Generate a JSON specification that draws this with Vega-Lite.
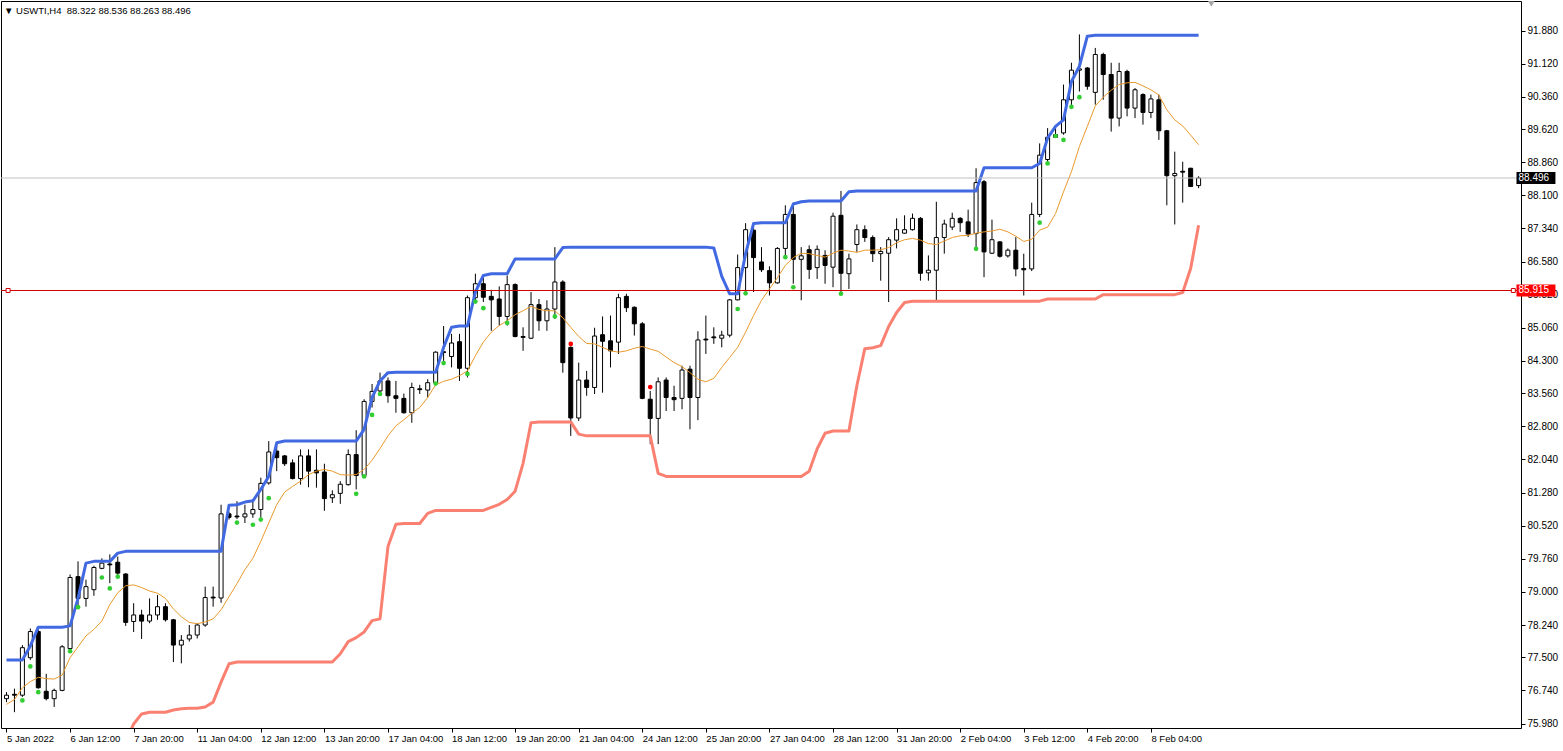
{
 "$schema": "https://vega.github.io/schema/vega-lite/v6.json",
 "width": 1520,
 "height": 727,
 "padding": {"left": 0, "top": 1, "right": 0, "bottom": 0},
 "autosize": {"type": "pad"},
 "background": "white",
 "config": {
  "view": {"stroke": "black", "strokeWidth": 1},
  "font": "Liberation Sans",
  "axis": {"labelFont": "Liberation Sans", "labelColor": "black", "tickColor": "black", "grid": false, "title": null, "domain": false, "labelOverlap": false, "labelSeparation": 0}
 },
 "title": {"text": "▼ USWTI,H4\u00a0\u00a088.322 88.536 88.263 88.496", "anchor": "start", "frame": "group", "orient": "top", "offset": -14, "dx": 3, "fontSize": 9.5, "fontWeight": "normal", "font": "Liberation Sans", "color": "black"},
 "datasets": {
  "bars": [
   {"i":0,"o":76.55,"h":76.70,"l":76.47,"c":76.63,"up":77.44,"ma":76.42},
   {"i":1,"o":76.65,"h":76.78,"l":76.24,"c":76.63,"up":77.44,"ma":76.53},
   {"i":2,"o":76.63,"h":77.78,"l":76.59,"c":77.72,"up":77.44,"ma":76.80},
   {"i":3,"o":77.49,"h":78.16,"l":77.44,"c":78.09,"up":77.76,"ma":76.94},
   {"i":4,"o":78.09,"h":78.13,"l":76.78,"c":76.80,"up":78.19,"ma":77.04},
   {"i":5,"o":76.72,"h":77.12,"l":76.51,"c":76.55,"up":78.19,"ma":77.01},
   {"i":6,"o":76.55,"h":76.78,"l":76.36,"c":76.74,"up":78.19,"ma":77.00},
   {"i":7,"o":76.74,"h":77.78,"l":76.72,"c":77.74,"up":78.19,"ma":77.09},
   {"i":8,"o":77.70,"h":79.40,"l":77.63,"c":79.33,"up":78.22,"ma":77.49},
   {"i":9,"o":79.35,"h":79.70,"l":78.62,"c":78.85,"up":78.85,"ma":77.74},
   {"i":10,"o":78.85,"h":79.28,"l":78.66,"c":79.12,"up":79.66,"ma":77.99},
   {"i":11,"o":79.05,"h":79.60,"l":78.91,"c":79.56,"up":79.70,"ma":78.14},
   {"i":12,"o":79.54,"h":79.77,"l":79.52,"c":79.66,"up":79.70,"ma":78.33},
   {"i":13,"o":79.64,"h":79.86,"l":79.20,"c":79.62,"up":79.70,"ma":78.71},
   {"i":14,"o":79.68,"h":79.81,"l":79.39,"c":79.43,"up":79.89,"ma":78.98},
   {"i":15,"o":79.41,"h":79.43,"l":78.22,"c":78.30,"up":79.93,"dn":75.55,"ma":79.14},
   {"i":16,"o":78.32,"h":78.74,"l":78.08,"c":78.47,"up":79.93,"dn":75.97,"ma":79.16},
   {"i":17,"o":78.47,"h":78.59,"l":77.92,"c":78.33,"up":79.93,"dn":76.20,"ma":79.10},
   {"i":18,"o":78.33,"h":78.85,"l":78.28,"c":78.47,"up":79.93,"dn":76.24,"ma":79.02},
   {"i":19,"o":78.47,"h":78.93,"l":78.36,"c":78.66,"up":79.93,"dn":76.24,"ma":78.97},
   {"i":20,"o":78.66,"h":78.74,"l":78.32,"c":78.36,"up":79.93,"dn":76.24,"ma":78.85},
   {"i":21,"o":78.36,"h":78.38,"l":77.39,"c":77.78,"up":79.93,"dn":76.29,"ma":78.61},
   {"i":22,"o":77.78,"h":78.01,"l":77.36,"c":77.89,"up":79.93,"dn":76.32,"ma":78.43},
   {"i":23,"o":77.92,"h":78.24,"l":77.86,"c":78.01,"up":79.93,"dn":76.33,"ma":78.30},
   {"i":24,"o":78.01,"h":78.28,"l":77.93,"c":78.24,"up":79.93,"dn":76.33,"ma":78.27},
   {"i":25,"o":78.24,"h":79.12,"l":78.20,"c":78.87,"up":79.93,"dn":76.36,"ma":78.31},
   {"i":26,"o":78.88,"h":79.12,"l":78.66,"c":78.86,"up":79.93,"dn":76.47,"ma":78.38},
   {"i":27,"o":78.86,"h":81.00,"l":78.75,"c":80.79,"up":79.93,"dn":76.93,"ma":78.59},
   {"i":28,"o":80.79,"h":80.83,"l":80.66,"c":80.71,"up":80.99,"dn":77.35,"ma":78.89},
   {"i":29,"o":80.74,"h":81.08,"l":80.67,"c":80.72,"up":81.00,"dn":77.39,"ma":79.19},
   {"i":30,"o":80.72,"h":81.00,"l":80.58,"c":80.79,"up":81.06,"dn":77.39,"ma":79.51},
   {"i":31,"o":80.79,"h":81.12,"l":80.70,"c":80.89,"up":81.09,"dn":77.39,"ma":79.77},
   {"i":32,"o":80.89,"h":81.62,"l":80.70,"c":81.49,"up":81.35,"dn":77.39,"ma":80.16},
   {"i":33,"o":81.50,"h":82.46,"l":81.46,"c":82.21,"up":81.65,"dn":77.39,"ma":80.58},
   {"i":34,"o":82.23,"h":82.42,"l":81.77,"c":82.08,"up":82.42,"dn":77.39,"ma":81.00},
   {"i":35,"o":82.12,"h":82.14,"l":81.89,"c":81.94,"up":82.46,"dn":77.39,"ma":81.29},
   {"i":36,"o":81.96,"h":82.04,"l":81.58,"c":81.60,"up":82.46,"dn":77.39,"ma":81.42},
   {"i":37,"o":81.60,"h":82.27,"l":81.46,"c":82.12,"up":82.46,"dn":77.39,"ma":81.54},
   {"i":38,"o":82.12,"h":82.27,"l":81.40,"c":81.77,"up":82.46,"dn":77.39,"ma":81.69},
   {"i":39,"o":81.79,"h":82.27,"l":81.39,"c":81.73,"up":82.46,"dn":77.39,"ma":81.77},
   {"i":40,"o":81.75,"h":81.94,"l":80.86,"c":81.14,"up":82.46,"dn":77.39,"ma":81.81},
   {"i":41,"o":81.16,"h":81.33,"l":81.04,"c":81.23,"up":82.46,"dn":77.39,"ma":81.77},
   {"i":42,"o":81.26,"h":81.54,"l":81.02,"c":81.47,"up":82.46,"dn":77.58,"ma":81.69},
   {"i":43,"o":81.46,"h":82.27,"l":81.44,"c":82.15,"up":82.46,"dn":77.86,"ma":81.68},
   {"i":44,"o":82.15,"h":82.71,"l":81.35,"c":81.67,"up":82.46,"dn":77.95,"ma":81.69},
   {"i":45,"o":81.67,"h":83.42,"l":81.62,"c":83.37,"up":82.73,"dn":78.08,"ma":81.81},
   {"i":46,"o":83.37,"h":83.77,"l":83.23,"c":83.60,"up":83.46,"dn":78.34,"ma":82.02},
   {"i":47,"o":83.61,"h":84.03,"l":83.54,"c":83.84,"up":83.84,"dn":78.38,"ma":82.29},
   {"i":48,"o":83.84,"h":83.92,"l":83.34,"c":83.50,"up":84.03,"dn":80.04,"ma":82.58},
   {"i":49,"o":83.50,"h":83.84,"l":83.11,"c":83.44,"up":84.04,"dn":80.55,"ma":82.81},
   {"i":50,"o":83.44,"h":83.55,"l":83.09,"c":83.11,"up":84.04,"dn":80.57,"ma":82.95},
   {"i":51,"o":83.11,"h":83.80,"l":82.88,"c":83.69,"up":84.04,"dn":80.57,"ma":83.10},
   {"i":52,"o":83.66,"h":83.75,"l":83.54,"c":83.64,"up":84.04,"dn":80.57,"ma":83.23},
   {"i":53,"o":83.63,"h":83.88,"l":83.46,"c":83.80,"up":84.04,"dn":80.80,"ma":83.46},
   {"i":54,"o":83.80,"h":84.52,"l":83.75,"c":84.50,"up":84.04,"dn":80.87,"ma":83.75},
   {"i":55,"o":84.51,"h":85.10,"l":84.26,"c":84.49,"up":84.61,"dn":80.87,"ma":83.83},
   {"i":56,"o":84.40,"h":84.92,"l":84.15,"c":84.71,"up":85.07,"dn":80.87,"ma":83.88},
   {"i":57,"o":84.74,"h":84.92,"l":83.84,"c":84.13,"up":85.10,"dn":80.87,"ma":83.96},
   {"i":58,"o":84.13,"h":85.80,"l":83.92,"c":85.75,"up":85.10,"dn":80.87,"ma":84.07},
   {"i":59,"o":85.75,"h":86.30,"l":85.69,"c":86.07,"up":85.88,"dn":80.87,"ma":84.42},
   {"i":60,"o":86.07,"h":86.22,"l":85.65,"c":85.76,"up":86.26,"dn":80.87,"ma":84.73},
   {"i":61,"o":85.78,"h":85.93,"l":84.99,"c":85.70,"up":86.30,"dn":80.94,"ma":84.96},
   {"i":62,"o":85.72,"h":86.01,"l":85.11,"c":85.32,"up":86.30,"dn":81.01,"ma":85.11},
   {"i":63,"o":85.32,"h":86.26,"l":85.11,"c":86.05,"up":86.30,"dn":81.12,"ma":85.22},
   {"i":64,"o":86.05,"h":86.08,"l":84.84,"c":84.86,"up":86.64,"dn":81.31,"ma":85.36},
   {"i":65,"o":84.86,"h":85.07,"l":84.53,"c":84.84,"up":86.64,"dn":81.95,"ma":85.45},
   {"i":66,"o":84.82,"h":85.88,"l":84.80,"c":85.59,"up":86.64,"dn":82.88,"ma":85.55},
   {"i":67,"o":85.59,"h":85.72,"l":84.99,"c":85.22,"up":86.64,"dn":82.90,"ma":85.48},
   {"i":68,"o":85.22,"h":85.69,"l":84.99,"c":85.49,"up":86.64,"dn":82.90,"ma":85.45},
   {"i":69,"o":85.49,"h":86.91,"l":85.26,"c":86.11,"up":86.64,"dn":82.90,"ma":85.45},
   {"i":70,"o":86.11,"h":86.15,"l":84.03,"c":84.26,"up":86.90,"dn":82.90,"ma":85.29},
   {"i":71,"o":84.61,"h":84.63,"l":82.58,"c":82.99,"up":86.91,"dn":82.90,"ma":85.07},
   {"i":72,"o":82.99,"h":84.26,"l":82.92,"c":83.86,"up":86.91,"dn":82.62,"ma":84.86},
   {"i":73,"o":83.86,"h":84.07,"l":83.50,"c":83.69,"up":86.91,"dn":82.58,"ma":84.70},
   {"i":74,"o":83.69,"h":85.06,"l":83.54,"c":84.87,"up":86.91,"dn":82.58,"ma":84.69},
   {"i":75,"o":84.90,"h":85.32,"l":83.57,"c":84.75,"up":86.91,"dn":82.58,"ma":84.61},
   {"i":76,"o":84.76,"h":85.34,"l":84.15,"c":84.53,"up":86.91,"dn":82.58,"ma":84.53},
   {"i":77,"o":84.73,"h":85.84,"l":84.46,"c":85.75,"up":86.91,"dn":82.58,"ma":84.50},
   {"i":78,"o":85.78,"h":85.84,"l":85.42,"c":85.52,"up":86.91,"dn":82.58,"ma":84.53},
   {"i":79,"o":85.53,"h":85.55,"l":84.88,"c":85.15,"up":86.91,"dn":82.58,"ma":84.59},
   {"i":80,"o":85.15,"h":85.19,"l":83.42,"c":83.44,"up":86.91,"dn":82.58,"ma":84.63},
   {"i":81,"o":83.42,"h":83.61,"l":82.39,"c":82.98,"up":86.91,"dn":82.58,"ma":84.57},
   {"i":82,"o":82.98,"h":83.92,"l":82.39,"c":83.82,"up":86.91,"dn":81.72,"ma":84.52},
   {"i":83,"o":83.86,"h":83.92,"l":83.15,"c":83.46,"up":86.91,"dn":81.65,"ma":84.39},
   {"i":84,"o":83.46,"h":83.73,"l":83.15,"c":83.41,"up":86.91,"dn":81.65,"ma":84.26},
   {"i":85,"o":83.44,"h":84.19,"l":83.19,"c":84.09,"up":86.91,"dn":81.65,"ma":84.17},
   {"i":86,"o":84.11,"h":84.19,"l":82.73,"c":83.46,"up":86.91,"dn":81.65,"ma":84.03},
   {"i":87,"o":83.46,"h":84.98,"l":82.94,"c":84.78,"up":86.91,"dn":81.65,"ma":83.88},
   {"i":88,"o":84.80,"h":85.34,"l":84.46,"c":84.78,"up":86.91,"dn":81.65,"ma":83.82},
   {"i":89,"o":84.85,"h":85.07,"l":84.69,"c":84.83,"up":86.89,"dn":81.65,"ma":83.90},
   {"i":90,"o":84.82,"h":84.99,"l":84.61,"c":84.89,"up":86.24,"dn":81.65,"ma":84.15},
   {"i":91,"o":84.89,"h":85.72,"l":84.84,"c":85.70,"up":85.84,"dn":81.65,"ma":84.38},
   {"i":92,"o":85.70,"h":86.74,"l":85.69,"c":86.44,"up":85.84,"dn":81.65,"ma":84.61},
   {"i":93,"o":86.44,"h":87.46,"l":85.88,"c":87.31,"up":86.76,"dn":81.65,"ma":84.96},
   {"i":94,"o":87.30,"h":87.41,"l":85.88,"c":86.67,"up":87.45,"dn":81.65,"ma":85.34},
   {"i":95,"o":86.57,"h":86.91,"l":86.34,"c":86.39,"up":87.47,"dn":81.65,"ma":85.69},
   {"i":96,"o":86.37,"h":86.47,"l":85.80,"c":86.09,"up":87.47,"dn":81.65,"ma":85.95},
   {"i":97,"o":86.09,"h":86.91,"l":86.07,"c":86.88,"up":87.47,"dn":81.65,"ma":86.21},
   {"i":98,"o":86.88,"h":87.87,"l":86.68,"c":87.66,"up":87.47,"dn":81.65,"ma":86.49},
   {"i":99,"o":87.66,"h":87.93,"l":86.07,"c":86.63,"up":87.90,"dn":81.65,"ma":86.67},
   {"i":100,"o":86.63,"h":86.91,"l":85.69,"c":86.71,"up":87.95,"dn":81.65,"ma":86.77},
   {"i":101,"o":86.85,"h":86.95,"l":86.18,"c":86.40,"up":87.97,"dn":81.77,"ma":86.76},
   {"i":102,"o":86.44,"h":86.95,"l":86.18,"c":86.86,"up":87.97,"dn":82.28,"ma":86.72},
   {"i":103,"o":86.72,"h":86.84,"l":86.07,"c":86.49,"up":87.97,"dn":82.64,"ma":86.68},
   {"i":104,"o":86.45,"h":87.70,"l":85.99,"c":87.62,"up":87.97,"dn":82.69,"ma":86.77},
   {"i":105,"o":87.64,"h":88.20,"l":85.84,"c":86.31,"up":87.97,"dn":82.69,"ma":86.84},
   {"i":106,"o":86.30,"h":86.76,"l":85.95,"c":86.64,"up":88.18,"dn":82.69,"ma":86.82},
   {"i":107,"o":86.97,"h":87.43,"l":86.80,"c":87.31,"up":88.20,"dn":83.73,"ma":86.79},
   {"i":108,"o":87.31,"h":87.41,"l":87.03,"c":87.13,"up":88.20,"dn":84.58,"ma":86.84},
   {"i":109,"o":87.13,"h":87.18,"l":86.57,"c":86.76,"up":88.20,"dn":84.60,"ma":86.84},
   {"i":110,"o":86.76,"h":86.91,"l":86.14,"c":86.81,"up":88.20,"dn":84.65,"ma":86.85},
   {"i":111,"o":86.77,"h":87.14,"l":85.65,"c":87.08,"up":88.20,"dn":85.09,"ma":86.90},
   {"i":112,"o":87.07,"h":87.57,"l":86.88,"c":87.31,"up":88.20,"dn":85.41,"ma":87.01},
   {"i":113,"o":87.23,"h":87.64,"l":87.22,"c":87.31,"up":88.20,"dn":85.64,"ma":87.08},
   {"i":114,"o":87.31,"h":87.68,"l":87.29,"c":87.57,"up":88.20,"dn":85.67,"ma":87.11},
   {"i":115,"o":87.57,"h":87.60,"l":86.14,"c":86.31,"up":88.20,"dn":85.67,"ma":87.07},
   {"i":116,"o":86.32,"h":86.72,"l":86.14,"c":86.38,"up":88.20,"dn":85.67,"ma":86.99},
   {"i":117,"o":86.38,"h":87.95,"l":85.69,"c":87.13,"up":88.20,"dn":85.67,"ma":86.97},
   {"i":118,"o":87.13,"h":87.54,"l":86.76,"c":87.44,"up":88.20,"dn":85.67,"ma":87.05},
   {"i":119,"o":87.37,"h":87.70,"l":87.30,"c":87.57,"up":88.20,"dn":85.67,"ma":87.13},
   {"i":120,"o":87.57,"h":87.60,"l":87.26,"c":87.47,"up":88.20,"dn":85.67,"ma":87.17},
   {"i":121,"o":87.49,"h":87.77,"l":87.14,"c":87.21,"up":88.20,"dn":85.67,"ma":87.18},
   {"i":122,"o":87.22,"h":88.72,"l":86.91,"c":88.39,"up":88.20,"dn":85.67,"ma":87.23},
   {"i":123,"o":88.41,"h":88.45,"l":86.22,"c":86.80,"up":88.73,"dn":85.67,"ma":87.26},
   {"i":124,"o":86.77,"h":87.54,"l":86.75,"c":87.08,"up":88.73,"dn":85.67,"ma":87.28},
   {"i":125,"o":87.03,"h":87.05,"l":86.67,"c":86.70,"up":88.73,"dn":85.67,"ma":87.32},
   {"i":126,"o":86.71,"h":86.88,"l":86.67,"c":86.84,"up":88.73,"dn":85.67,"ma":87.26},
   {"i":127,"o":86.84,"h":87.14,"l":86.24,"c":86.41,"up":88.73,"dn":85.67,"ma":87.16},
   {"i":128,"o":86.42,"h":86.76,"l":85.80,"c":86.39,"up":88.73,"dn":85.67,"ma":87.04},
   {"i":129,"o":86.41,"h":87.93,"l":86.36,"c":87.66,"up":88.73,"dn":85.67,"ma":87.09},
   {"i":130,"o":87.66,"h":89.29,"l":87.60,"c":89.02,"up":88.83,"dn":85.67,"ma":87.30},
   {"i":131,"o":88.92,"h":89.64,"l":88.87,"c":89.43,"up":89.41,"dn":85.72,"ma":87.37},
   {"i":132,"o":89.49,"h":89.68,"l":89.42,"c":89.43,"up":89.68,"dn":85.72,"ma":87.68},
   {"i":133,"o":89.53,"h":90.64,"l":89.49,"c":90.29,"up":89.83,"dn":85.72,"ma":88.18},
   {"i":134,"o":90.29,"h":91.14,"l":90.14,"c":90.97,"up":90.71,"dn":85.72,"ma":88.64},
   {"i":135,"o":90.97,"h":91.79,"l":90.48,"c":91.00,"up":91.06,"dn":85.72,"ma":89.22},
   {"i":136,"o":91.02,"h":91.04,"l":90.52,"c":90.60,"up":91.75,"dn":85.72,"ma":89.68},
   {"i":137,"o":90.46,"h":91.48,"l":90.18,"c":91.33,"up":91.77,"dn":85.72,"ma":90.15},
   {"i":138,"o":91.33,"h":91.37,"l":90.29,"c":90.87,"up":91.77,"dn":85.82,"ma":90.35},
   {"i":139,"o":90.87,"h":91.14,"l":89.56,"c":89.87,"up":91.77,"dn":85.82,"ma":90.51},
   {"i":140,"o":89.87,"h":91.14,"l":89.68,"c":90.94,"up":91.77,"dn":85.82,"ma":90.64},
   {"i":141,"o":90.94,"h":90.98,"l":89.91,"c":90.10,"up":91.77,"dn":85.82,"ma":90.68},
   {"i":142,"o":90.10,"h":90.56,"l":89.87,"c":90.52,"up":91.77,"dn":85.82,"ma":90.69},
   {"i":143,"o":90.41,"h":90.44,"l":89.72,"c":90.00,"up":91.77,"dn":85.82,"ma":90.61},
   {"i":144,"o":90.00,"h":90.41,"l":89.87,"c":90.31,"up":91.77,"dn":85.82,"ma":90.52},
   {"i":145,"o":90.29,"h":90.41,"l":89.37,"c":89.58,"up":91.77,"dn":85.82,"ma":90.40},
   {"i":146,"o":89.58,"h":89.60,"l":87.87,"c":88.55,"up":91.77,"dn":85.82,"ma":90.06},
   {"i":147,"o":88.55,"h":89.10,"l":87.43,"c":88.60,"up":91.77,"dn":85.82,"ma":89.83},
   {"i":148,"o":88.65,"h":88.87,"l":87.93,"c":88.63,"up":91.77,"dn":85.87,"ma":89.69},
   {"i":149,"o":88.72,"h":88.73,"l":88.29,"c":88.30,"up":91.77,"dn":86.42,"ma":89.48},
   {"i":150,"o":88.322,"h":88.536,"l":88.263,"c":88.496,"up":91.77,"dn":87.41,"ma":89.26}
  ],
  "dots": [
   {"i":2,"p":76.51,"t":"up"},{"i":3,"p":77.29,"t":"up"},{"i":4,"p":76.70,"t":"up"},{"i":8,"p":77.64,"t":"up"},
   {"i":9,"p":78.65,"t":"up"},{"i":12,"p":79.33,"t":"up"},{"i":13,"p":79.08,"t":"up"},{"i":14,"p":79.35,"t":"up"},
   {"i":29,"p":80.59,"t":"up"},{"i":31,"p":80.54,"t":"up"},{"i":32,"p":80.66,"t":"up"},{"i":33,"p":81.15,"t":"up"},
   {"i":44,"p":81.25,"t":"up"},{"i":45,"p":81.65,"t":"up"},{"i":46,"p":83.06,"t":"up"},{"i":47,"p":83.54,"t":"up"},
   {"i":54,"p":83.78,"t":"up"},{"i":55,"p":84.25,"t":"up"},{"i":58,"p":84.00,"t":"up"},{"i":59,"p":85.66,"t":"up"},
   {"i":60,"p":85.51,"t":"up"},{"i":63,"p":85.17,"t":"up"},{"i":69,"p":85.32,"t":"up"},{"i":92,"p":85.49,"t":"up"},
   {"i":93,"p":85.85,"t":"up"},{"i":98,"p":86.68,"t":"up"},{"i":99,"p":85.99,"t":"up"},{"i":105,"p":85.84,"t":"up"},
   {"i":122,"p":86.87,"t":"up"},{"i":130,"p":87.47,"t":"up"},{"i":131,"p":88.83,"t":"up"},{"i":132,"p":89.46,"t":"up"},
   {"i":133,"p":89.37,"t":"up"},{"i":134,"p":90.13,"t":"up"},{"i":135,"p":90.35,"t":"up"},
   {"i":71,"p":84.69,"t":"dn"},{"i":81,"p":83.70,"t":"dn"}
  ],
  "levels": [
   {"price":88.496,"label":"88.496","kind":"bid"},
   {"price":85.915,"label":"85.915","kind":"level"}
  ]
 },
 "layer": [
  {
   "data": {"name": "bars"},
   "mark": {"type": "rule", "color": "black", "strokeWidth": 1, "clip": true},
   "encoding": {
    "x": {"field": "i", "type": "quantitative",
     "scale": {"domain": [-0.0625, 189.9375], "nice": false, "zero": false},
     "axis": {"orient": "bottom", "values": [0,8,16,24,32,40,48,56,64,72,80,88,96,104,112,120,128,136,144], "tickCount": 60,
      "labelExpr": "['5 Jan 2022','6 Jan 12:00','7 Jan 20:00','11 Jan 04:00','12 Jan 12:00','13 Jan 20:00','17 Jan 04:00','18 Jan 12:00','19 Jan 20:00','21 Jan 04:00','24 Jan 12:00','25 Jan 20:00','27 Jan 04:00','28 Jan 12:00','31 Jan 20:00','2 Feb 04:00','3 Feb 12:00','4 Feb 20:00','8 Feb 04:00'][round(datum.value/8)]",
      "labelAlign": "left", "labelBaseline": "top", "labelFontSize": 9.5, "tickSize": 4, "labelPadding": 1, "labelDx": 1,
      "labelFlush": false, "labelOverlap": false, "labelBound": false}},
    "y": {"field": "l", "type": "quantitative",
     "scale": {"domain": [75.877, 92.557], "nice": false, "zero": false},
     "axis": {"orient": "right", "values": [75.98,76.74,77.5,78.24,79.0,79.76,80.52,81.28,82.04,82.8,83.56,84.3,85.06,85.82,86.58,87.34,88.1,88.86,89.62,90.36,91.12,91.88], "tickCount": 60,
      "format": ".3f", "labelFontSize": 10, "tickSize": 4, "labelPadding": 2, "labelOverlap": false, "labelFlush": false, "labelBound": false}},
    "y2": {"field": "h"}
   }
  },
  {
   "data": {"name": "bars"},
   "mark": {"type": "bar", "width": 4, "stroke": "black", "strokeWidth": 1, "clip": true},
   "encoding": {
    "x": {"field": "i", "type": "quantitative"},
    "y": {"field": "o", "type": "quantitative"},
    "y2": {"field": "c"},
    "fill": {"condition": {"test": "datum.c >= datum.o", "value": "white"}, "value": "black"}
   }
  },
  {
   "data": {"name": "bars"},
   "mark": {"type": "line", "color": "#E99A2C", "strokeWidth": 1, "clip": true},
   "encoding": {"x": {"field": "i", "type": "quantitative"}, "y": {"field": "ma", "type": "quantitative"}}
  },
  {
   "data": {"name": "bars"},
   "mark": {"type": "line", "color": "#4169E1", "strokeWidth": 3, "strokeJoin": "round", "clip": true},
   "encoding": {"x": {"field": "i", "type": "quantitative"}, "y": {"field": "up", "type": "quantitative"}}
  },
  {
   "data": {"name": "bars"},
   "mark": {"type": "line", "color": "#FA8072", "strokeWidth": 3, "strokeJoin": "round", "clip": true},
   "encoding": {"x": {"field": "i", "type": "quantitative"}, "y": {"field": "dn", "type": "quantitative"}}
  },
  {
   "data": {"name": "levels"},
   "mark": {"type": "rule", "strokeWidth": 1},
   "encoding": {
    "y": {"field": "price", "type": "quantitative"},
    "color": {"condition": {"test": "datum.kind == 'bid'", "value": "#C0C0C0"}, "value": "#D00000"}
   }
  },
  {
   "data": {"name": "dots"},
   "mark": {"type": "point", "filled": true, "size": 22, "opacity": 1, "clip": true},
   "encoding": {
    "x": {"field": "i", "type": "quantitative"},
    "y": {"field": "p", "type": "quantitative"},
    "color": {"condition": {"test": "datum.t == 'up'", "value": "#32CD32"}, "value": "#FF0000"}
   }
  },
  {
   "data": {"name": "levels"},
   "transform": [{"filter": "datum.kind == 'level'"}],
   "mark": {"type": "point", "shape": "square", "size": 16, "filled": false, "fill": "white", "stroke": "#D00000", "strokeWidth": 1, "opacity": 1},
   "encoding": {"x": {"datum": 0.2}, "y": {"field": "price", "type": "quantitative"}}
  },
  {
   "data": {"name": "levels"},
   "transform": [{"filter": "datum.kind == 'level'"}],
   "mark": {"type": "point", "shape": "square", "size": 16, "filled": false, "fill": "white", "stroke": "#D00000", "strokeWidth": 1, "opacity": 1},
   "encoding": {"x": {"datum": 189.6}, "y": {"field": "price", "type": "quantitative"}}
  },
  {
   "data": {"name": "levels"},
   "mark": {"type": "rule", "strokeWidth": 12, "strokeCap": "butt", "clip": false},
   "encoding": {
    "x": {"datum": 190.0},
    "x2": {"datum": 194.9},
    "y": {"field": "price", "type": "quantitative"},
    "color": {"condition": {"test": "datum.kind == 'bid'", "value": "black"}, "value": "#FF0000"}
   }
  },
  {
   "data": {"name": "levels"},
   "mark": {"type": "text", "align": "left", "baseline": "middle", "fontSize": 10, "font": "Liberation Sans", "color": "white", "clip": false},
   "encoding": {
    "x": {"datum": 190.25},
    "y": {"field": "price", "type": "quantitative"},
    "text": {"field": "label"}
   }
  },
  {
   "data": {"values": [{"m": "shift"}]},
   "mark": {"type": "point", "shape": "triangle-down", "size": 45, "filled": true, "color": "#A8A8A8", "opacity": 1, "clip": true},
   "encoding": {"x": {"datum": 151.6}, "y": {"datum": 92.49}}
  }
 ]
}
